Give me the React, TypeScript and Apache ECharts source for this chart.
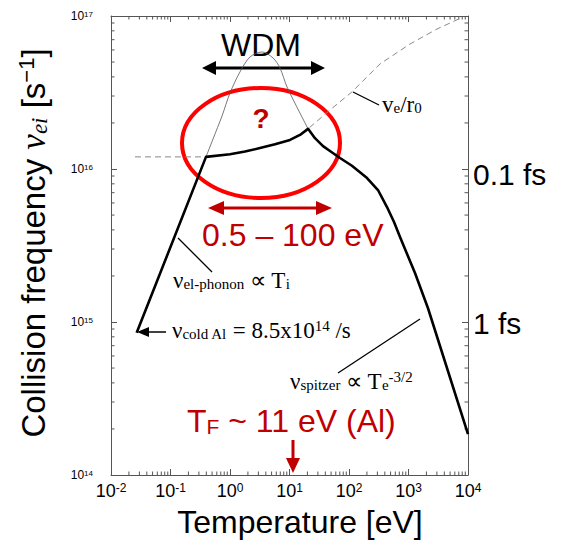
import React, { useEffect, useRef } from 'react';
import * as echarts from 'echarts';

// ---- data ----
const blackT = [0.027, 0.395, 1.0, 1.79, 3.19, 5.71, 10.2, 15.0, 20.5, 26.8, 36.6, 47.9, 70.6, 112, 201, 307, 435, 571, 720, 1286, 2127, 10000];
const blackNu = [8.5e14, 1.2e16, 1.25e16, 1.3e16, 1.37e16, 1.45e16, 1.55e16, 1.67e16, 1.83e16, 1.59e16, 1.41e16, 1.31e16, 1.18e16, 1.05e16, 8.73e15, 7.29e15, 5.64e15, 4.5e15, 3.59e15, 2.09e15, 1.23e15, 1.85e14];

const thinT = [0.395, 0.518, 0.734, 1.0, 1.47, 2.17, 3.45, 5.28, 6.92, 9.08, 15.0, 20.5];
const thinNu = [1.2e16, 1.57e16, 2.22e16, 3.14e16, 4.31e16, 5.4e16, 5.82e16, 5.32e16, 4.57e16, 3.44e16, 2.32e16, 1.83e16];

const dashT = [0.0253, 0.395, 1.0, 3.19, 10.2, 20.5, 47.9, 112, 332, 1060, 3013, 8240];
const dashNu = [1.2e16, 1.2e16, 1.25e16, 1.37e16, 1.55e16, 1.83e16, 2.43e16, 3.19e16, 4.86e16, 6.56e16, 8.22e16, 9.85e16];

const xMin = 1e-2;
const xMax = 1e4;
const yMin = 1e14;
const yMax = 1e17;
const xDecades = [-2, -1, 0, 1, 2, 3];
const yDecades = [14, 15, 16];
const minorMult = [2, 3, 4, 5, 6, 7, 8, 9];

const SANS = '"Liberation Sans", Arial, Helvetica, sans-serif';
const SERIF = '"Liberation Serif", "Times New Roman", serif';
const DARKRED = '#c00000';

function arrow(x1: number, y1: number, x2: number, y2: number, color: string, lw: number, hl: number, hw: number, both: boolean) {
  const els: any[] = [];
  const dx = x2 - x1, dy = y2 - y1;
  const L = Math.hypot(dx, dy);
  const ux = dx / L, uy = dy / L;
  const px = -uy, py = ux;
  const sx = both ? x1 + ux * (hl - 1) : x1;
  const sy = both ? y1 + uy * (hl - 1) : y1;
  els.push({ type: 'line', shape: { x1: sx, y1: sy, x2: x2 - ux * (hl - 1), y2: y2 - uy * (hl - 1) }, style: { stroke: color, lineWidth: lw } });
  const head = (tx: number, ty: number, dirx: number, diry: number) => ({
    type: 'polygon',
    shape: { points: [[tx, ty], [tx - dirx * hl + px * hw, ty - diry * hl + py * hw], [tx - dirx * hl - px * hw, ty - diry * hl - py * hw]] },
    style: { fill: color },
  });
  els.push(head(x2, y2, ux, uy));
  if (both) els.push(head(x1, y1, -ux, -uy));
  return els;
}

const serifRich = {
  sub: { fontFamily: SERIF, fontSize: 15, verticalAlign: 'bottom', padding: [7, 0, 0, 0] },
  sup: { fontFamily: SERIF, fontSize: 15, verticalAlign: 'top', padding: [0, 0, 4, 0] },
};

function serifText(x: number, y: number, text: string) {
  return {
    type: 'text', x, y,
    style: { text, fontFamily: SERIF, fontSize: 23, fill: '#000', align: 'left', verticalAlign: 'middle', rich: serifRich },
  };
}

export default function App() {
  const ref = useRef<HTMLDivElement>(null);
  useEffect(() => {
    if (!ref.current) return;
    const chart = echarts.init(ref.current, undefined, { renderer: 'svg' });
    const minorX: number[][] = [];
    xDecades.forEach((d) => minorMult.forEach((k) => minorX.push([k * Math.pow(10, d), 1e15])));
    const minorY: number[][] = [];
    yDecades.forEach((d) => minorMult.forEach((k) => minorY.push([1, k * Math.pow(10, d)])));

    const axisCommon = {
      type: 'log', logBase: 10, splitNumber: 6,
      axisLine: { show: true, onZero: false, lineStyle: { color: '#555', width: 1 } },
      axisTick: { show: true, inside: true, length: 6, lineStyle: { color: '#555', width: 1 } },
      splitLine: { show: false },
      minorTick: { show: false },
    };
    const expOf = (v: number) => Math.round(Math.log10(v));

    const option: any = {
      animation: false,
      backgroundColor: '#fff',
      grid: { left: 111, top: 16, width: 357, height: 459, containLabel: false, outerBoundsMode: 'none' },
      xAxis: [
        {
          ...axisCommon, min: xMin, max: xMax, position: 'bottom',
          axisLabel: {
            show: true, margin: 7, showMinLabel: true, showMaxLabel: true,
            formatter: (v: number) => `{b|10}{s|${expOf(v)}}`,
            rich: {
              b: { fontFamily: SANS, fontSize: 18, color: '#000' },
              s: { fontFamily: SANS, fontSize: 12, color: '#000', verticalAlign: 'top' },
            },
          },
        },
        { ...axisCommon, min: xMin, max: xMax, position: 'top', axisLabel: { show: false } },
      ],
      yAxis: [
        {
          ...axisCommon, min: yMin, max: yMax, position: 'left',
          axisLabel: {
            show: true, margin: 18, showMinLabel: true, showMaxLabel: true,
            formatter: (v: number) => `{b|10}{s|${expOf(v)}}`,
            rich: {
              b: { fontFamily: SANS, fontSize: 12, color: '#000' },
              s: { fontFamily: SANS, fontSize: 8, color: '#000', verticalAlign: 'top', padding: [0, 0, 4, 0] },
            },
          },
        },
        { ...axisCommon, min: yMin, max: yMax, position: 'right', axisLabel: { show: false } },
      ],
      series: [
        {
          type: 'custom', xAxisIndex: 0, yAxisIndex: 0, clip: false, silent: true,
          data: minorX,
          renderItem: (params: any, api: any) => {
            const v = api.value(0);
            const b = api.coord([v, yMin]);
            const t = api.coord([v, yMax]);
            const st = { stroke: '#555', lineWidth: 1 };
            return {
              type: 'group', children: [
                { type: 'line', shape: { x1: b[0], y1: b[1], x2: b[0], y2: b[1] - 3.5 }, style: st },
                { type: 'line', shape: { x1: t[0], y1: t[1], x2: t[0], y2: t[1] + 3.5 }, style: st },
              ],
            };
          },
        },
        {
          type: 'custom', xAxisIndex: 0, yAxisIndex: 0, clip: false, silent: true,
          data: minorY,
          renderItem: (params: any, api: any) => {
            const v = api.value(1);
            const l = api.coord([xMin, v]);
            const r = api.coord([xMax, v]);
            const st = { stroke: '#555', lineWidth: 1 };
            return {
              type: 'group', children: [
                { type: 'line', shape: { x1: l[0], y1: l[1], x2: l[0] + 3.5, y2: l[1] }, style: st },
                { type: 'line', shape: { x1: r[0], y1: r[1], x2: r[0] - 3.5, y2: r[1] }, style: st },
              ],
            };
          },
        },
        {
          type: 'line', name: 've/r0', data: dashT.map((t, i) => [t, dashNu[i]]),
          showSymbol: false, symbol: 'none',
          lineStyle: { color: '#888', width: 1, type: [6, 4] },
        },
        {
          type: 'line', name: 'WDM', data: thinT.map((t, i) => [t, thinNu[i]]),
          showSymbol: false, symbol: 'none', smooth: 0.3,
          lineStyle: { color: '#555', width: 0.8 },
        },
        {
          type: 'line', name: 'nu_ei', data: blackT.map((t, i) => [t, blackNu[i]]),
          showSymbol: false, symbol: 'none',
          lineStyle: { color: '#000', width: 2.6, join: 'round' },
        },
      ],
      graphic: [
        // axis names
        {
          type: 'text', x: 300, y: 522,
          style: { text: 'Temperature [eV]', fontFamily: SANS, fontSize: 32, fill: '#000', align: 'center', verticalAlign: 'middle' },
        },
        {
          type: 'text', x: 33, y: 243, rotation: Math.PI / 2,
          style: {
            text: 'Collision frequency {nu|ν}{ei|ei} [s{sp|−1}]',
            fontFamily: SANS, fontSize: 33, fill: '#000', align: 'center', verticalAlign: 'middle',
            rich: {
              nu: { fontFamily: SERIF, fontStyle: 'italic', fontSize: 35 },
              ei: { fontFamily: SERIF, fontStyle: 'italic', fontSize: 23, verticalAlign: 'bottom', padding: [8, 0, 0, 0] },
              sp: { fontFamily: SANS, fontSize: 22, verticalAlign: 'top', padding: [0, 0, 6, 0] },
            },
          },
        },
        // right-hand time labels
        { type: 'text', x: 473, y: 174, style: { text: '0.1 fs', fontFamily: SANS, fontSize: 30, fill: '#000', align: 'left', verticalAlign: 'middle' } },
        { type: 'text', x: 473, y: 323, style: { text: '1 fs', fontFamily: SANS, fontSize: 30, fill: '#000', align: 'left', verticalAlign: 'middle' } },
        // WDM
        { type: 'text', x: 261, y: 45, style: { text: 'WDM', fontFamily: SANS, fontSize: 32, fill: '#000', align: 'center', verticalAlign: 'middle' } },
        ...arrow(202, 68, 325, 68, '#000', 3, 14, 7, true),
        // red ellipse and question mark
        { type: 'ellipse', shape: { cx: 261, cy: 143, rx: 79, ry: 55 }, style: { fill: 'none', stroke: '#ff0000', lineWidth: 4 } },
        { type: 'text', x: 261, y: 118, style: { text: '?', fontFamily: SANS, fontSize: 28, fontWeight: 'bold', fill: DARKRED, align: 'center', verticalAlign: 'middle' } },
        // range arrow
        ...arrow(208, 208, 332, 208, DARKRED, 3, 16, 7, true),
        { type: 'text', x: 202, y: 235, style: { text: '0.5 – 100 eV', fontFamily: SANS, fontSize: 32, fill: DARKRED, align: 'left', verticalAlign: 'middle' } },
        // Fermi temperature
        {
          type: 'text', x: 187, y: 421,
          style: {
            text: 'T{f|F} ~ 11 eV (Al)', fontFamily: SANS, fontSize: 32, fill: DARKRED, align: 'left', verticalAlign: 'middle',
            rich: { f: { fontFamily: SANS, fontSize: 21, fill: DARKRED, verticalAlign: 'bottom', padding: [10, 0, 0, 0] } },
          },
        },
        ...arrow(293, 440, 293, 473, DARKRED, 3, 15, 7, false),
        // leader lines
        { type: 'line', shape: { x1: 353, y1: 92, x2: 379, y2: 105 }, style: { stroke: '#000', lineWidth: 1.3 } },
        { type: 'line', shape: { x1: 178, y1: 238, x2: 212, y2: 272 }, style: { stroke: '#000', lineWidth: 1.3 } },
        { type: 'line', shape: { x1: 338, y1: 373, x2: 420, y2: 319 }, style: { stroke: '#000', lineWidth: 1.3 } },
        ...arrow(166, 332, 137, 332, '#000', 1.5, 12, 5, false),
        // serif labels
        serifText(382, 104, 'v{sub|e}/r{sub|0}'),
        serifText(173, 280, 'ν{sub|el-phonon} ∝ T{sub|i}'),
        serifText(172, 330, 'ν{sub|cold Al} = 8.5x10{sup|14} /s'),
        serifText(290, 381, 'ν{sub|spitzer} ∝ T{sub|e}{sup|-3/2}'),
      ],
    };
    chart.setOption(option);
    return () => chart.dispose();
  }, []);
  return <div ref={ref} style={{ position: 'fixed', left: 0, top: 0, width: 562, height: 547 }} />;
}
